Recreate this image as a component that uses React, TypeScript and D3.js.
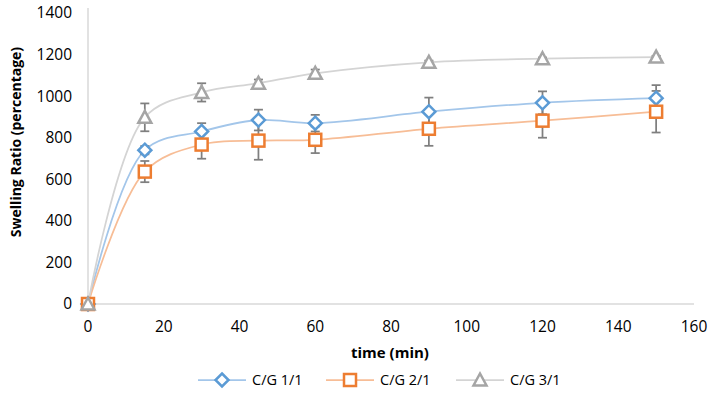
import React from "react";
import * as d3 from "d3";

const times = [0, 15, 30, 45, 60, 90, 120, 150];
const cg11 = [0, 740, 830, 885, 870, 925, 968, 990];
const cg11Err = [0, 20, 40, 50, 40, 68, 55, 63];
const cg21 = [0, 637, 767, 786, 790, 843, 882, 925];
const cg21Err = [0, 51, 68, 92, 64, 82, 82, 100];
const cg31 = [0, 898, 1018, 1062, 1110, 1163, 1180, 1188];
const cg31Err = [0, 67, 44, 18, 18, 8, 6, 6];
const xTicks = [0, 20, 40, 60, 80, 100, 120, 140, 160];
const yTicks = [0, 200, 400, 600, 800, 1000, 1200, 1400];
const seriesNames = ["C/G 1/1", "C/G 2/1", "C/G 3/1"];

const W = 709;
const H = 418;
const FONT = "'Open Sans', sans-serif";

const series = [
  { name: seriesNames[0], values: cg11, err: cg11Err, marker: "#5b9bd5", line: "#a3c6ea", shape: "diamond" },
  { name: seriesNames[1], values: cg21, err: cg21Err, marker: "#ed7d31", line: "#f7bd96", shape: "square" },
  { name: seriesNames[2], values: cg31, err: cg31Err, marker: "#a5a5a5", line: "#d4d4d4", shape: "triangle" },
];

function Marker({ shape, cx, cy, color }: { shape: string; cx: number; cy: number; color: string }) {
  if (shape === "diamond") {
    const r = 6.5;
    return (
      <path
        d={`M${cx},${cy - r}L${cx + r},${cy}L${cx},${cy + r}L${cx - r},${cy}Z`}
        fill="#fff"
        stroke={color}
        strokeWidth={2.5}
      />
    );
  }
  if (shape === "square") {
    const s = 12;
    return <rect x={cx - s / 2} y={cy - s / 2} width={s} height={s} fill="#fff" stroke={color} strokeWidth={2.5} />;
  }
  const r = 6.5;
  return (
    <path
      d={`M${cx},${cy - r}L${cx + r},${cy + r - 1}L${cx - r},${cy + r - 1}Z`}
      fill="#fff"
      stroke={color}
      strokeWidth={2.5}
      strokeLinejoin="miter"
    />
  );
}

export default function App() {
  const x = d3.scaleLinear().domain([0, 160]).range([88, 694]);
  const y = d3.scaleLinear().domain([0, 1400]).range([304, 13]);
  const line = d3
    .line<number>()
    .x((_, i) => x(times[i]))
    .y((d) => y(d))
    .curve(d3.curveCatmullRom.alpha(0.5));

  const legendCenters = [222, 350, 480];

  return (
    <svg width={W} height={H} style={{ position: "absolute", left: 0, top: 0, background: "#fff" }}>
      <line x1={x(0)} x2={x(0)} y1={8} y2={y(0)} stroke="#d9d9d9" strokeWidth={1.5} />
      <line x1={x(0)} x2={x(160)} y1={y(0)} y2={y(0)} stroke="#d9d9d9" strokeWidth={1.5} />

      {yTicks.map((t) => (
        <text key={t} x={72} y={y(t)} dy="0.35em" textAnchor="end" fontFamily={FONT} fontSize={15.5} fill="#000">
          {t}
        </text>
      ))}
      {xTicks.map((t) => (
        <text key={t} x={x(t)} y={327} dy="0.35em" textAnchor="middle" fontFamily={FONT} fontSize={15.5} fill="#000">
          {t}
        </text>
      ))}

      <text
        transform={`translate(16,142) rotate(-90)`}
        textAnchor="middle"
        dy="0.35em"
        fontFamily={FONT}
        fontWeight="bold"
        fontSize={14}
      >
        Swelling Ratio (percentage)
      </text>
      <text x={390} y={353} dy="0.35em" textAnchor="middle" fontFamily={FONT} fontWeight="bold" fontSize={15}>
        time (min)
      </text>

      {series.map((s) => (
        <path key={s.name + "l"} d={line(s.values) || ""} fill="none" stroke={s.line} strokeWidth={1.75} />
      ))}

      {series.map((s) =>
        s.values.map((v, i) =>
          s.err[i] > 0 ? (
            <g key={s.name + "e" + i} stroke="#7f7f7f" strokeWidth={1.75}>
              <line x1={x(times[i])} x2={x(times[i])} y1={y(v + s.err[i])} y2={y(v - s.err[i])} />
              <line x1={x(times[i]) - 4.5} x2={x(times[i]) + 4.5} y1={y(v + s.err[i])} y2={y(v + s.err[i])} />
              <line x1={x(times[i]) - 4.5} x2={x(times[i]) + 4.5} y1={y(v - s.err[i])} y2={y(v - s.err[i])} />
            </g>
          ) : null
        )
      )}

      {series.map((s) =>
        s.values.map((v, i) => (
          <Marker key={s.name + "m" + i} shape={s.shape} cx={x(times[i])} cy={y(v)} color={s.marker} />
        ))
      )}

      {series.map((s, i) => {
        const cx = legendCenters[i];
        return (
          <g key={s.name + "leg"}>
            <line x1={cx - 24} x2={cx + 24} y1={380} y2={380} stroke={s.line} strokeWidth={1.75} />
            <Marker shape={s.shape} cx={cx} cy={380} color={s.marker} />
            <text x={cx + 30} y={380} dy="0.35em" fontFamily={FONT} fontSize={14.5} fill="#000">
              {s.name}
            </text>
          </g>
        );
      })}
    </svg>
  );
}
